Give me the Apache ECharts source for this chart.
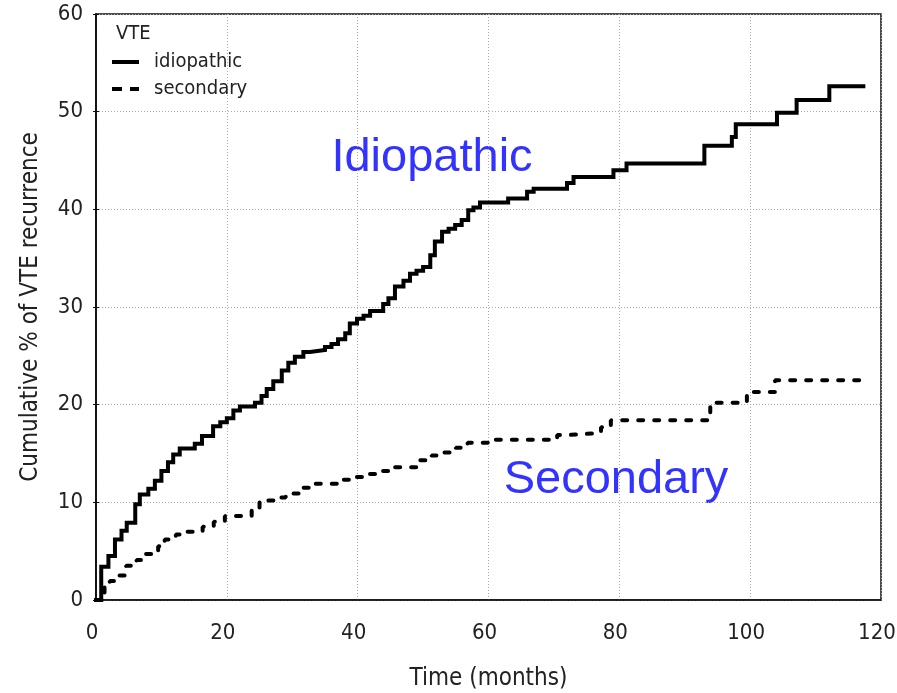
<!DOCTYPE html>
<html>
<head>
<meta charset="utf-8">
<script src="https://cdn.jsdelivr.net/npm/echarts@6/dist/echarts.min.js"></script>
<style>
html,body{margin:0;padding:0;background:#fff;}
#chart{width:897px;height:693px;}
</style>
</head>
<body>
<div id="chart"></div>
<script>
// Idiopathic: time (months) of each step and cumulative % after the step
var idioTimes  = [0, 0.8, 1.9, 2.9, 3.9, 4.7, 6.0, 6.7, 8.0, 9.0, 10.0, 11.0, 11.8, 12.8, 15.1, 16.2, 17.9, 19.0, 20.0, 21.0, 22.0, 24.3, 25.3, 26.1, 27.1, 28.4, 29.4, 30.4, 31.7, 32.7, 35.0, 36.0, 37.0, 38.1, 38.8, 39.9, 40.9, 41.9, 43.9, 44.7, 45.7, 47.0, 48.0, 49.0, 50.0, 51.1, 51.8, 52.9, 53.9, 54.9, 55.9, 56.9, 57.7, 58.7, 63.0, 65.9, 66.9, 72.0, 73.0, 79.1, 81.1, 93.0, 97.2, 97.8, 104.1, 107.1, 112.1, 117.3];
var idioValues = [0, 3.4, 4.5, 6.2, 7.1, 7.9, 9.8, 10.8, 11.4, 12.2, 13.2, 14.1, 14.9, 15.5, 16.0, 16.8, 17.8, 18.2, 18.6, 19.4, 19.8, 20.2, 20.9, 21.6, 22.4, 23.5, 24.3, 24.9, 25.4, 25.6, 25.9, 26.2, 26.7, 27.3, 28.3, 28.8, 29.1, 29.6, 30.3, 30.9, 32.1, 32.7, 33.4, 33.7, 34.1, 35.3, 36.7, 37.7, 38.0, 38.4, 38.9, 39.9, 40.2, 40.7, 41.1, 41.8, 42.1, 42.7, 43.3, 44.0, 44.7, 46.5, 47.4, 48.7, 49.9, 51.2, 52.6, 52.6];

// Secondary
var secTimes  = [0, 1.3, 2.1, 3.6, 4.6, 6.2, 7.6, 9.5, 10.5, 12.2, 14.0, 16.3, 18.0, 19.7, 23.8, 25.0, 27.4, 29.0, 31.5, 33.0, 37.0, 39.5, 41.5, 43.0, 45.2, 49.3, 51.3, 53.2, 55.0, 56.8, 61.0, 70.5, 72.3, 77.2, 78.7, 93.9, 99.5, 103.8, 116.8];
var secValues = [0, 1.3, 1.95, 2.5, 3.5, 4.1, 4.7, 5.5, 6.2, 6.7, 7.0, 7.5, 8.0, 8.6, 9.3, 10.2, 10.5, 10.9, 11.5, 11.9, 12.3, 12.6, 12.9, 13.2, 13.6, 14.3, 14.8, 15.1, 15.6, 16.1, 16.4, 16.9, 17.1, 17.7, 18.4, 20.2, 21.3, 22.5, 22.5];

var xTicks = [0, 20, 40, 60, 80, 100, 120];
var yTicks = [0, 10, 20, 30, 40, 50, 60];

function pairs(t, v) { return t.map(function (x, i) { return [x, v[i]]; }); }

var FONT = '"DejaVu Sans Condensed", "Liberation Sans Narrow", "DejaVu Sans", sans-serif';
var chart = echarts.init(document.getElementById('chart'), null, { renderer: 'canvas' });

chart.setOption({
  backgroundColor: '#fff',
  animation: false,
  grid: { left: 96, right: 16, top: 14, bottom: 93, containLabel: false, outerBoundsMode: 'none',
          show: true, borderColor: '#111', borderWidth: 1.5, backgroundColor: 'transparent' },
  legend: {
    orient: 'vertical', left: 107, top: 47, itemWidth: 27, itemHeight: 4, itemGap: 7,
    itemStyle: { color: '#000', borderWidth: 0 },
    textStyle: { fontFamily: FONT, fontSize: 20, color: '#222', padding: [0, 0, 0, 10] },
    data: [
      { name: 'idiopathic', icon: 'path://M0,0H27V4H0Z' },
      { name: 'secondary', icon: 'path://M0,0H10V4H0Z M18,0H27V4H18Z' }
    ]
  },
  xAxis: [{
    type: 'value', min: xTicks[0], max: xTicks[xTicks.length - 1], interval: 20,
    name: 'Time (months)', nameLocation: 'middle', nameGap: 67,
    nameTextStyle: { fontFamily: FONT, fontSize: 24, color: '#222' },
    axisLine: { show: true, onZero: false, lineStyle: { color: '#111', width: 1.5 } },
    axisTick: { show: false },
    axisLabel: { fontFamily: FONT, fontSize: 22, color: '#222', margin: 22, padding: [0, 8, 0, 0] },
    splitLine: { show: true, lineStyle: { color: '#aaa', type: [1, 2], width: 1 } }
  }],
  yAxis: [{
    type: 'value', min: yTicks[0], max: yTicks[yTicks.length - 1], interval: 10,
    name: 'Cumulative % of VTE recurrence', nameLocation: 'middle', nameGap: 53,
    nameTextStyle: { fontFamily: FONT, fontSize: 24, color: '#222' },
    axisLine: { show: true, onZero: false, lineStyle: { color: '#111', width: 1.5 } },
    axisTick: { show: true, inside: false, length: 3, lineStyle: { color: '#111' } },
    axisLabel: { fontFamily: FONT, fontSize: 22, color: '#222', margin: 13 },
    splitLine: { show: true, lineStyle: { color: '#aaa', type: [1, 2], width: 1 } }
  }, {
    type: 'value', position: 'right', min: 0, max: 60, interval: 10,
    axisLine: { show: true, lineStyle: { color: '#111', width: 1.5 } },
    axisTick: { show: true, inside: false, length: 3, lineStyle: { color: '#111' } },
    axisLabel: { show: false }, splitLine: { show: false }
  }],
  series: [{
    name: 'idiopathic', type: 'line', step: 'end', showSymbol: false, symbol: 'none',
    data: pairs(idioTimes, idioValues),
    lineStyle: { color: '#000', width: 4, cap: 'square', join: 'miter' },
    itemStyle: { color: '#000' }
  }, {
    name: 'secondary', type: 'line', step: 'end', showSymbol: false, symbol: 'none',
    data: pairs(secTimes, secValues),
    lineStyle: { color: '#000', width: 4, type: [5, 11], cap: 'round' },
    itemStyle: { color: '#000' }
  }],
  graphic: [
    { type: 'text', left: 116, top: 24, style: { text: 'VTE', fontFamily: FONT, fontSize: 20, fill: '#222' } },
    { type: 'text', x: 432, y: 158, style: { text: 'Idiopathic', fontFamily: '"Liberation Sans", Arial, sans-serif', fontSize: 47, fill: '#3333ff', align: 'center', verticalAlign: 'middle' } },
    { type: 'text', x: 616, y: 480, style: { text: 'Secondary', fontFamily: '"Liberation Sans", Arial, sans-serif', fontSize: 47, fill: '#3333ff', align: 'center', verticalAlign: 'middle' } }
  ]
});
</script>
</body>
</html>
